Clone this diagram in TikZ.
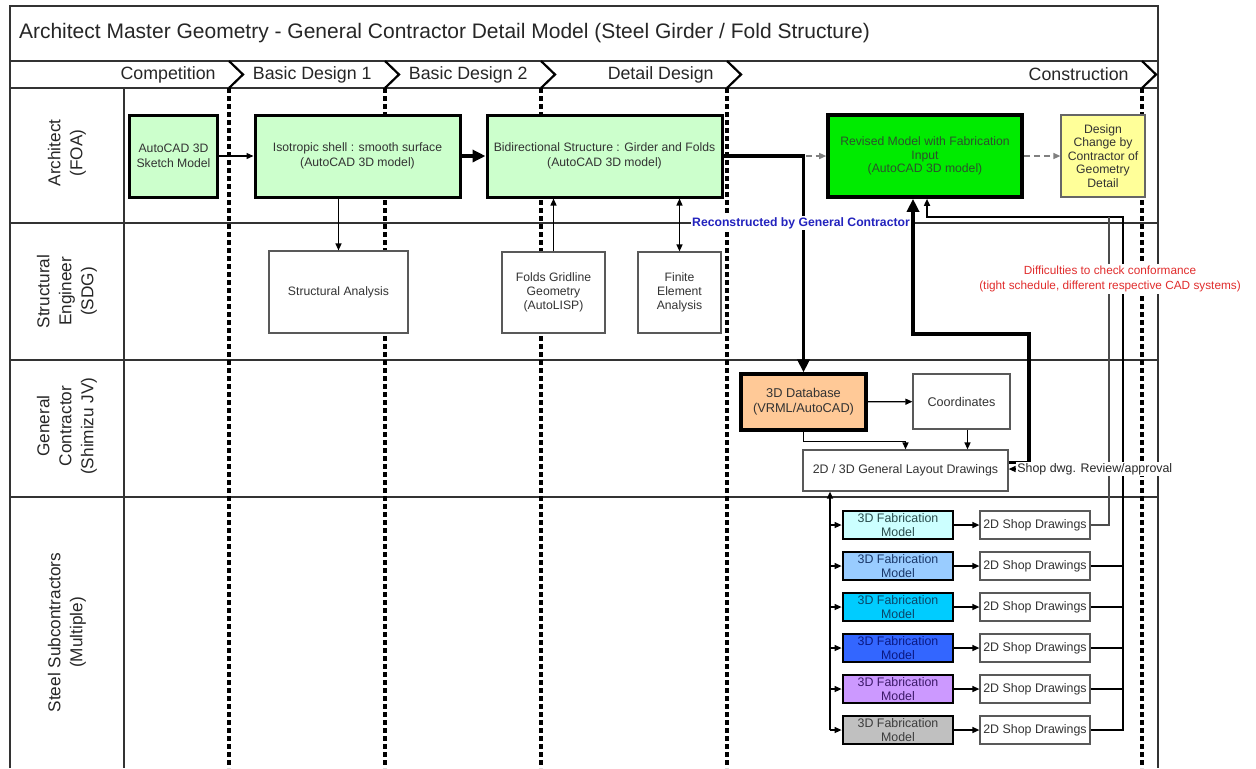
\documentclass[tikz,border=0pt]{standalone}
\usepackage{fontspec}
\setmainfont{Liberation Sans}
\usetikzlibrary{positioning}
\usetikzlibrary{arrows.meta}

\definecolor{mint}{HTML}{CCFFCC}
\definecolor{revgreen}{RGB}{0,235,0}
\definecolor{revtext}{RGB}{45,80,45}
\definecolor{paleyellow}{HTML}{FFFF99}
\definecolor{peach}{HTML}{FFC997}
\definecolor{fabA}{HTML}{CCFFFF}
\definecolor{fabB}{HTML}{99CCFF}
\definecolor{fabC}{HTML}{00CCFF}
\definecolor{fabD}{HTML}{3366FF}
\definecolor{fabE}{HTML}{CC99FF}
\definecolor{fabF}{HTML}{C0C0C0}
\definecolor{inkA}{RGB}{40,75,75}
\definecolor{inkB}{RGB}{25,55,105}
\definecolor{inkC}{RGB}{10,70,105}
\definecolor{inkD}{RGB}{10,25,130}
\definecolor{inkE}{RGB}{60,25,105}
\definecolor{inkF}{RGB}{60,60,60}
\definecolor{recblue}{RGB}{35,35,190}
\definecolor{warnred}{RGB}{225,45,45}

\begin{document}
\begin{tikzpicture}[x=0.5pt,y=-0.5pt,
  lane/.style={draw=black!80,line width=0.75pt},
  phaseline/.style={draw,line width=1.6pt,dash pattern=on 2.4pt off 1.6pt},
  chevron/.style={draw,line width=1.1pt},
  boxfont/.style={font=\fontsize{6.1}{7.5}\selectfont,align=center},
  archbox/.style={boxfont,draw,line width=1.5pt,fill=mint,text=black!80,minimum height=41pt},
  plainbox/.style={boxfont,draw=black!65,line width=0.6pt,fill=white,text=black!80},
  fabbox/.style={boxfont,font=\fontsize{6.2}{7.3}\selectfont,draw,line width=1.4pt,minimum width=55pt,minimum height=14pt,inner sep=0pt},
  shopbox/.style={plainbox,font=\fontsize{6.2}{7}\selectfont,minimum width=55pt,minimum height=14pt,inner sep=0pt},
  conn/.style={draw,line width=0.65pt,-{Triangle[length=3.5pt,width=3pt]}},
  twoway/.style={draw,line width=0.65pt,{Triangle[length=3.5pt,width=3pt]}-{Triangle[length=3.5pt,width=3pt]}},
  link/.style={draw,line width=0.65pt},
  heavy/.style={draw,line width=1.8pt,-{Triangle[length=6.5pt,width=6pt]}},
  hint/.style={draw=black!50,line width=0.7pt,dash pattern=on 3pt off 2pt,-{Triangle[length=3.5pt,width=3pt]}},
  lanetext/.style={font=\fontsize{8.6}{11}\selectfont,align=center,text=black!85,rotate=90},
  phasetext/.style={font=\fontsize{8.9}{10}\selectfont,text=black!85,anchor=east,inner sep=0pt}]
\useasboundingbox (0,0) rectangle (1256,768);

\draw[lane] (10,768) -- (10,6) -- (1158,6) -- (1158,768);
\foreach \y in {61,88,223,360,497}
  \draw[lane] (10,\y) -- (1158,\y);
\draw[lane] (124,88) -- (124,768);
\foreach \x in {229,385,541,727,1142} {
  \draw[phaseline] (\x,88) -- (\x,768);
  \draw[chevron] (\x,61) -- (\x+14,74.5) -- (\x,88);
}

\node[anchor=west,font=\fontsize{10.5}{12}\selectfont,text=black!85] (title) at (12,33.5)
  {Architect Master Geometry - General Contractor Detail Model (Steel Girder / Fold Structure)};
\foreach \x/\t in {229/Competition,385/Basic Design 1,541/Basic Design 2,727/Detail Design,1142/Construction}
  \node[phasetext] (phase\x) at (\x-13,74.5) {\t};

\node[lanetext] (architect) at (67,153) {Architect\\(FOA)};
\node[lanetext] (engineer) at (67,291.5) {Structural\\Engineer\\(SDG)};
\node[lanetext] (contractor) at (67,426) {General\\Contractor\\(Shimizu JV)};
\node[lanetext] (steel) at (67,632.5) {Steel Subcontractors\\(Multiple)};

\node[archbox,minimum width=42.5pt] (sketch) at (173.5,156) {AutoCAD 3D\\Sketch Model};
\node[archbox,minimum width=102.5pt] (shell) at (357.5,156) {Isotropic shell : smooth surface\\(AutoCAD 3D model)};
\node[archbox,minimum width=117.5pt] (girder) at (604.5,156) {Bidirectional Structure : Girder and Folds\\(AutoCAD 3D model)};
\node[archbox,fill=revgreen,text=revtext,line width=1.8pt,font=\fontsize{6.1}{6.7}\selectfont,minimum width=97pt] (revised) at (925,156)
  {Revised Model with Fabrication\\Input\\(AutoCAD 3D model)};
\node[boxfont,font=\fontsize{6.1}{6.7}\selectfont,draw=black!60,line width=0.7pt,fill=paleyellow,text=black!80,minimum width=41pt,minimum height=41pt] (change) at (1103,156)
  {Design\\Change by\\Contractor of\\Geometry\\Detail};

\node[plainbox,minimum width=69.5pt,minimum height=41pt] (analysis) at (338.5,292) {Structural Analysis};
\node[plainbox,font=\fontsize{6.1}{7.1}\selectfont,minimum width=51.5pt,minimum height=40.5pt] (gridline) at (553.5,292.5) {Folds Gridline\\Geometry\\(AutoLISP)};
\node[plainbox,font=\fontsize{6.1}{7.1}\selectfont,minimum width=41.5pt,minimum height=40.5pt] (fem) at (679.5,292.5) {Finite\\Element\\Analysis};

\node[boxfont,font=\fontsize{6.4}{7.6}\selectfont,draw,line width=1.6pt,fill=peach,text=black!80,minimum width=62.5pt,minimum height=28pt] (database) at (803.5,402) {3D Database\\(VRML/AutoCAD)};
\node[plainbox,font=\fontsize{6.3}{7.5}\selectfont,minimum width=48.5pt,minimum height=27.5pt] (coords) at (961.5,401.5) {Coordinates};
\node[plainbox,font=\fontsize{6.2}{7.5}\selectfont,minimum width=102.5pt,minimum height=20.5pt] (layout) at (905.5,470.5) {2D / 3D General Layout Drawings};

\foreach \i/\fc/\tc in {1/fabA/inkA,2/fabB/inkB,3/fabC/inkC,4/fabD/inkD,5/fabE/inkE,6/fabF/inkF} {
  \node[fabbox,fill=\fc,text=\tc] (fab\i) at (898,484+41*\i) {3D Fabrication\\Model};
  \node[shopbox] (shop\i) at (1035,484+41*\i) {2D Shop Drawings};
}

\draw[conn] (sketch) -- (shell);
\draw[conn] (analysis.north |- shell.south) -- (analysis.north);
\draw[conn] (gridline.north) -- (gridline.north |- girder.south);
\draw[twoway] (fem.north |- girder.south) -- (fem.north);
\draw[heavy] (shell) -- (girder);
\draw[heavy] (girder.east) -| (database.north);
\draw[hint] ([xshift=1pt]database.north |- revised.west) -- (revised.west);
\draw[hint] (revised) -- (change);
\draw[conn] (database) -- (coords);
\draw[conn] (database.south) -- ++(0,10) -| (layout.north);
\draw[conn] ([xshift=3pt]coords.south) -- ([xshift=3pt]coords.south |- layout.north);

\coordinate (bend) at (1029,334);
\draw[heavy] ([yshift=4pt]layout.east) -| (bend) -| ([xshift=-6pt]revised.south);

\coordinate (trunk) at (830,730);
\draw[conn] (trunk) -- (trunk |- layout.south);
\foreach \i in {1,...,6} {
  \draw[conn] (fab\i.west -| trunk) -- (fab\i.west);
  \draw[conn] (fab\i) -- (shop\i);
}

\coordinate (collect) at (1123,217);
\draw[conn,line width=0.8pt] (shop6.east) -| (collect) -| ([xshift=1pt]revised.south);
\foreach \i in {2,...,5}
  \draw[link] (shop\i.east) -- (shop\i.east -| collect);
\draw[link,draw=black!70] (shop1.east) -| ([xshift=-7pt]collect);

\node[font=\bfseries\fontsize{6.1}{7}\selectfont,text=recblue,fill=white,inner sep=0.5pt] (recon) at (801,223) {Reconstructed by General Contractor};
\node[font=\fontsize{5.9}{7.5}\selectfont,text=warnred,fill=white,align=center,inner sep=1pt] (warn) at (1110,278.5)
  {Difficulties to check conformance\\(tight schedule, different respective CAD systems)};
\node[boxfont,font=\fontsize{6.2}{7}\selectfont,fill=white,text=black!85,anchor=west,inner sep=0.5pt] (review) at (1016,469) {Shop dwg. Review/approval};
\draw[conn] (review.west) -- (review.west -| layout.east);
\end{tikzpicture}
\end{document}
